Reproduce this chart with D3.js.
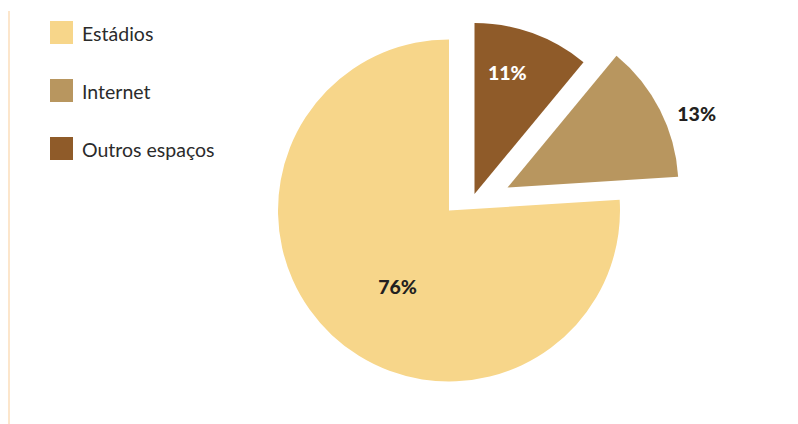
<!DOCTYPE html>
<html>
<head>
<meta charset="utf-8">
<script src="https://cdn.jsdelivr.net/npm/d3@7"></script>
<style>
  html, body { margin: 0; padding: 0; background: #ffffff; }
  svg { display: block; }
</style>
</head>
<body>
<svg id="chart" width="798" height="424"></svg>
<script>
// ---- data ----
const categories = ["Outros espaços", "Internet", "Estádios"];
const values = [11, 13, 76];
const legendOrder = ["Estádios", "Internet", "Outros espaços"];

// ---- styles ----
const colors = {"Estádios": "#F7D68A", "Internet": "#B8965F", "Outros espaços": "#8F5B29"};
const labelColors = {"Estádios": "#231F20", "Internet": "#231F20", "Outros espaços": "#FFFFFF"};
// explode offsets (px) per slice
const explode = {"Estádios": [0, 0], "Internet": [58.5, -23], "Outros espaços": [25.5, -16.5]};
const labelRadius = {"Estádios": 92, "Internet": 203, "Outros espaços": 125};
const labelAngleShift = {"Estádios": -0.16, "Internet": 0.1, "Outros espaços": -0.08};

const svg = d3.select("#chart");
const W = 798, H = 424;
const cx = 449, cy = 210.5, R = 171;

// left rule
svg.append("line")
  .attr("x1", 9).attr("x2", 9).attr("y1", 11).attr("y2", H)
  .attr("stroke", "#FCE6CC").attr("stroke-width", 2);

const data = categories.map((c, i) => ({cat: c, value: values[i]}));
const pie = d3.pie().sort(null).value(d => d.value);
const arcs = pie(data);
const arc = d3.arc().innerRadius(0).outerRadius(R);

const g = svg.append("g").attr("transform", `translate(${cx},${cy})`);

const slices = g.selectAll("g.slice").data(arcs).enter().append("g")
  .attr("class", "slice")
  .attr("transform", d => `translate(${explode[d.data.cat][0]},${explode[d.data.cat][1]})`);

slices.append("path")
  .attr("d", arc)
  .attr("fill", d => colors[d.data.cat]);

slices.append("text")
  .attr("x", d => {
    const a = (d.startAngle + d.endAngle) / 2 + labelAngleShift[d.data.cat];
    return Math.sin(a) * labelRadius[d.data.cat];
  })
  .attr("y", d => {
    const a = (d.startAngle + d.endAngle) / 2 + labelAngleShift[d.data.cat];
    return -Math.cos(a) * labelRadius[d.data.cat];
  })
  .attr("dy", "0.36em")
  .attr("text-anchor", "middle")
  .attr("font-family", "Lato, 'Open Sans', sans-serif")
  .attr("font-weight", "900")
  .attr("font-size", 19.5)
  .attr("fill", d => labelColors[d.data.cat])
  .text(d => d.data.value + "%");

// legend
const legend = svg.append("g");
const rowY = d3.scalePoint().domain(legendOrder).range([21, 137]);
const items = legend.selectAll("g").data(legendOrder).enter().append("g")
  .attr("transform", d => `translate(50,${rowY(d)})`);
items.append("rect").attr("width", 23).attr("height", 23).attr("fill", d => colors[d]);
items.append("text")
  .attr("x", 32).attr("y", 20)
  .attr("font-family", "Lato, 'Open Sans', sans-serif")
  .attr("font-size", 19.5)
  .attr("fill", "#2B2B2B")
  .text(d => d);
</script>
</body>
</html>
